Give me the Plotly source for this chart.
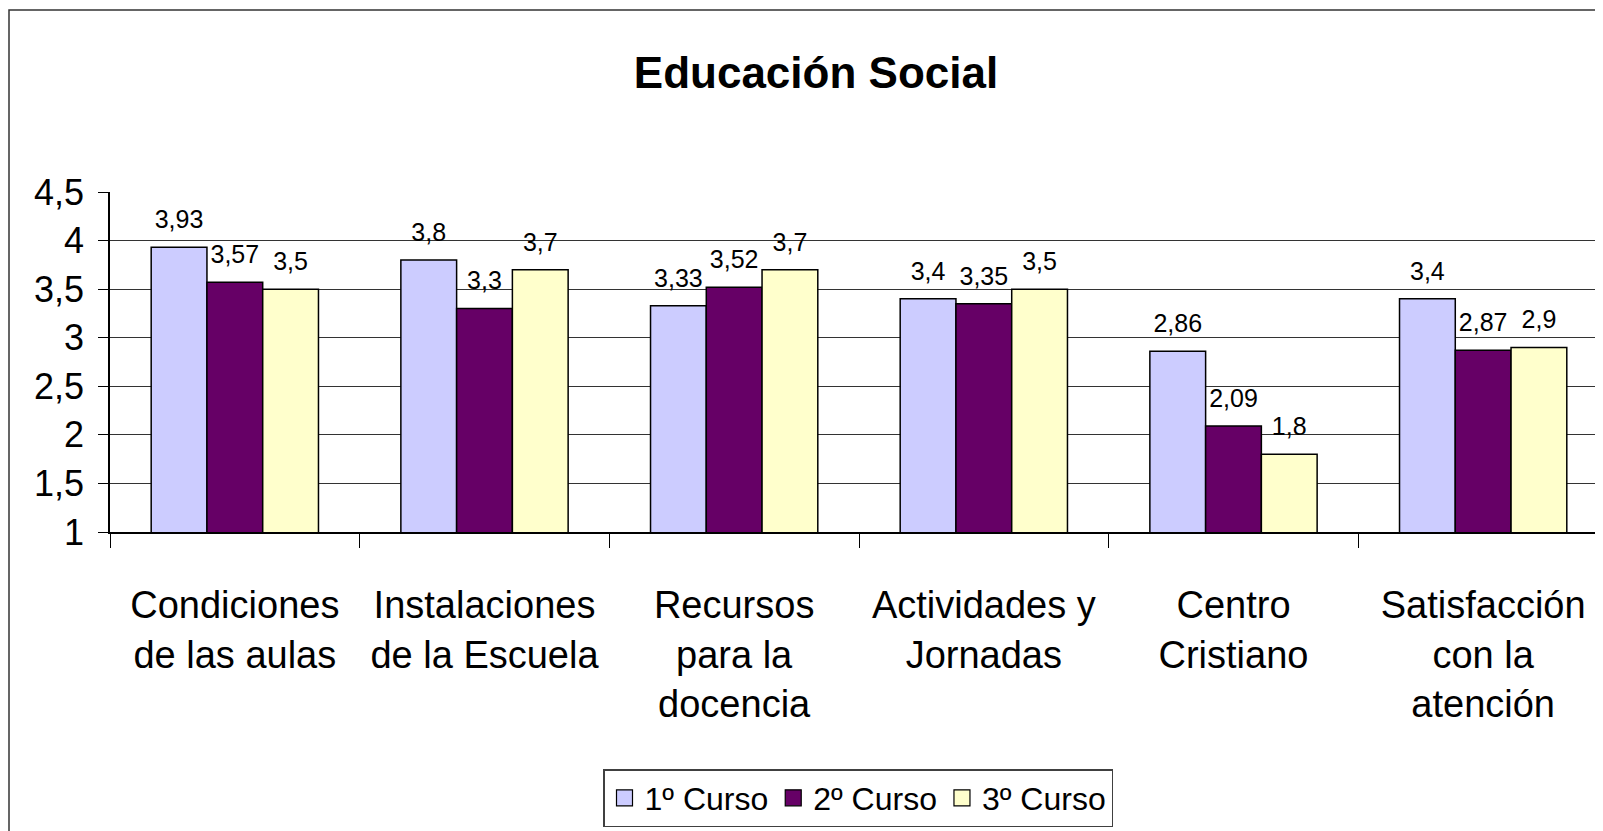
import plotly.graph_objects as go

categories = [
    "Condiciones<br>de las aulas",
    "Instalaciones<br>de la Escuela",
    "Recursos<br>para la<br>docencia",
    "Actividades y<br>Jornadas",
    "Centro<br>Cristiano",
    "Satisfacción<br>con la<br>atención",
]
series_names = ["1º Curso", "2º Curso", "3º Curso"]
curso1 = [3.93, 3.8, 3.33, 3.4, 2.86, 3.4]
curso2 = [3.57, 3.3, 3.52, 3.35, 2.09, 2.87]
curso3 = [3.5, 3.7, 3.7, 3.5, 1.8, 2.9]
colors = ["#CCCCFF", "#660066", "#FFFFCC"]
y_ticks = [1, 1.5, 2, 2.5, 3, 3.5, 4, 4.5]

SANS = "Liberation Sans, Arial, sans-serif"

# page body has an 8px margin around the plot div
W, H = 1595, 823
ML, MT, MB = 102, 184, 299
PW = W - ML
PH = H - MT - MB


def fmt(v):
    return ("%g" % v).replace(".", ",")


fig = go.Figure()
all_series = [curso1, curso2, curso3]
for i, (name, vals) in enumerate(zip(series_names, all_series)):
    fig.add_trace(go.Bar(
        x=categories, y=vals, name=name,
        marker=dict(color=colors[i], line=dict(color="#000000", width=1.5)),
        offsetgroup=str(i), hoverinfo="skip", showlegend=False,
    ))
for i, vals in enumerate(all_series):
    fig.add_trace(go.Scatter(
        x=categories, y=vals, mode="markers+text",
        text=[fmt(v) for v in vals], textposition="top center",
        textfont=dict(family=SANS, size=25, color="#000000"),
        marker=dict(size=19, color="rgba(0,0,0,0)"),
        offsetgroup=str(i), showlegend=False, hoverinfo="skip", cliponaxis=False,
    ))
# legend keys (square swatches like the original)
for i, name in enumerate(series_names):
    fig.add_trace(go.Scatter(
        x=[None], y=[None], mode="markers", name=name,
        marker=dict(symbol="square", size=16, color=colors[i],
                    line=dict(color="#000000", width=1.2)),
        offsetgroup=str(i), hoverinfo="skip",
    ))

fig.update_layout(
    width=W, height=H,
    margin=dict(l=ML, r=0, t=MT, b=MB, autoexpand=False),
    paper_bgcolor="white", plot_bgcolor="white",
    barmode="group", bargap=0.33, bargroupgap=0,
    scattermode="group", scattergap=0.33,
    separators=",.",
    title=dict(
        text="Educación Social", x=(808 - ML) / PW, xref="paper", xanchor="center",
        y=1 - 65 / H, yref="container", yanchor="middle",
        font=dict(family=SANS, size=44, color="#000000", weight="bold"),
    ),
    showlegend=True,
    legend=dict(
        orientation="h", x=(850 - ML) / PW, xanchor="center",
        y=-(761 - (MT + PH)) / PH, yanchor="top",
        font=dict(family=SANS, size=32, color="#000000"),
        bordercolor="#404040", borderwidth=1.5, bgcolor="white",
        traceorder="normal", itemsizing="trace",
    ),
    xaxis=dict(
        type="category", range=[-0.5, 5.48], automargin=False,
        showline=True, linecolor="#000000", linewidth=1.5,
        ticks="outside", tickson="boundaries", ticklen=14, tickcolor="#000000", tickwidth=1,
        tickfont=dict(family=SANS, size=38, color="#000000"),
        ticklabelstandoff=39, showgrid=False, tickangle=0,
    ),
    yaxis=dict(
        range=[1, 4.5], tickvals=y_ticks, automargin=False,
        showline=True, linecolor="#000000", linewidth=1.5,
        ticks="outside", ticklen=10, tickcolor="#000000", tickwidth=1,
        tickfont=dict(family=SANS, size=36, color="#000000"),
        ticklabelstandoff=7,
        showgrid=True, gridcolor="#333333", gridwidth=1, zeroline=False,
    ),
)

fig.add_shape(
    type="rect", xref="paper", yref="paper",
    x0=(1 - ML) / PW, x1=1.2, y0=-1.0, y1=(MT + PH - 2) / PH,
    line=dict(color="#333333", width=1.5), fillcolor="rgba(0,0,0,0)", layer="below",
)

fig.write_html("out.html")
